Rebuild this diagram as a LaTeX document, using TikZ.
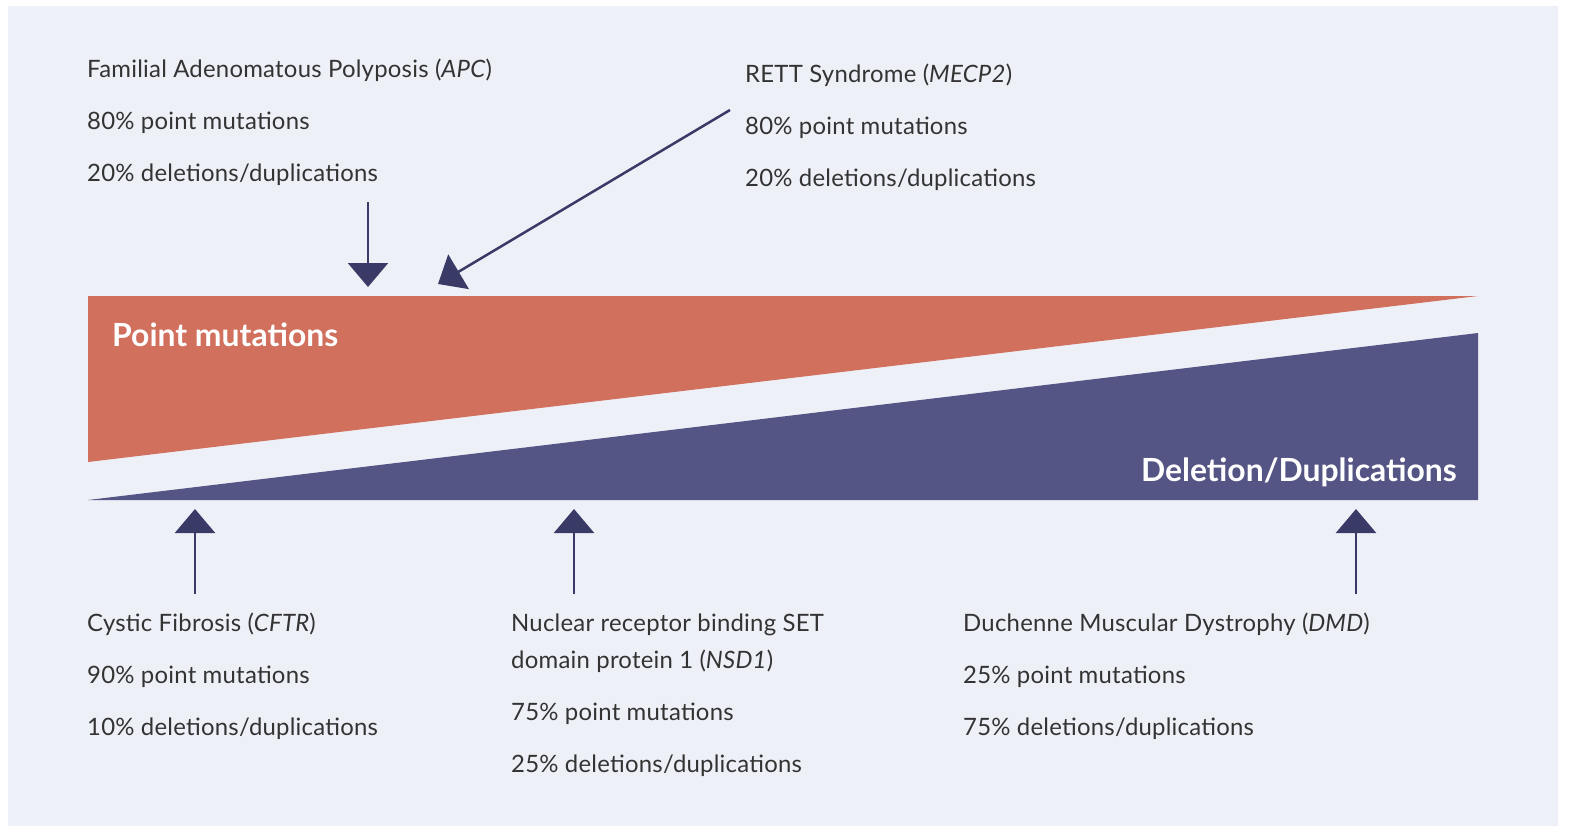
\documentclass[tikz,border=0pt]{standalone}
\usepackage{fontspec}
\setmainfont{Lato}
\usetikzlibrary{arrows.meta}
\definecolor{bg}{HTML}{EEF0F8}
\definecolor{orng}{HTML}{D0705D}
\definecolor{purp}{HTML}{555585}
\definecolor{navy}{HTML}{393A66}
\begin{document}
\begin{tikzpicture}[x=1bp,y=-1bp,
  txt/.style={anchor=base west,inner sep=0,font=\fontsize{24}{28}\selectfont\addfontfeatures{LetterSpace=1},text=black!80},
  arr/.style={navy,line width=2.5bp,-{Triangle[width=40bp,length=24bp]}}]
\useasboundingbox (0,0) rectangle (1576,839);
\fill[white] (0,0) rectangle (1576,839);
\fill[bg] (8,6) rectangle (1558,826);
\fill[orng] (88,296) -- (1478,296) -- (88,462) -- cycle;
\fill[purp] (88,500) -- (1478,500) -- (1478,333) -- cycle;
\node[anchor=base west,inner sep=0,text=white,font=\fontsize{32}{36}\selectfont\bfseries] (pm) at (112,346) {Point mutations};
\node[anchor=base east,inner sep=0,text=white,font=\fontsize{32}{36}\selectfont\bfseries] (dd) at (1457,481) {Deletion/Duplications};
% top texts
\node[txt] (apc) at (87,77) {Familial Adenomatous Polyposis (\textit{APC})};
\node[txt] at (87,129) {80\% point mutations};
\node[txt] at (87,181) {20\% deletions/duplications};
\node[txt] (rett) at (745,82) {RETT Syndrome (\textit{MECP2})};
\node[txt] at (745,134) {80\% point mutations};
\node[txt] at (745,186) {20\% deletions/duplications};
% bottom texts
\node[txt] at (87,631) {Cystic Fibrosis (\textit{CFTR})};
\node[txt] at (87,683) {90\% point mutations};
\node[txt] at (87,735) {10\% deletions/duplications};
\node[txt] at (511,631) {Nuclear receptor binding SET};
\node[txt] at (511,668) {domain protein 1 (\textit{NSD1})};
\node[txt] at (511,720) {75\% point mutations};
\node[txt] at (511,772) {25\% deletions/duplications};
\node[txt] at (963,631) {Duchenne Muscular Dystrophy (\textit{DMD})};
\node[txt] at (963,683) {25\% point mutations};
\node[txt] at (963,735) {75\% deletions/duplications};
% arrows
\coordinate (a1s) at (368,202); \coordinate (a1e) at (368,287);
\coordinate (a2s) at (730,110); \coordinate (a2e) at (438,284);
\coordinate (b1s) at (195,594); \coordinate (b1e) at (195,509);
\coordinate (b2s) at (574,594); \coordinate (b2e) at (574,509);
\coordinate (b3s) at (1356,594); \coordinate (b3e) at (1356,509);
\draw[arr] (a1s) -- (a1e);
\draw[arr] (a2s) -- (a2e);
\draw[arr] (b1s) -- (b1e);
\draw[arr] (b2s) -- (b2e);
\draw[arr] (b3s) -- (b3e);
\end{tikzpicture}
\end{document}
